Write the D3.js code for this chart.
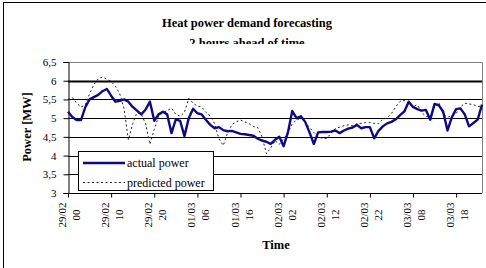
<!DOCTYPE html>
<html>
<head>
<meta charset="utf-8">
<script src="https://cdn.jsdelivr.net/npm/d3@7"></script>
<style>
  html, body { margin: 0; padding: 0; background: #fff; }
  svg { display: block; }
  text { font-family: "Liberation Serif", "Times New Roman", serif; fill: #000; }
</style>
</head>
<body>
<svg id="chart" width="486" height="268"></svg>
<script>
// ---- data (hourly, 29/02 00:00 .. 04/03 00:00) ----
const hours = d3.range(0, 97);
const actualPower = [5.17,5.03,4.95,4.95,5.29,5.5,5.56,5.62,5.72,5.78,
  5.6,5.44,5.46,5.5,5.44,5.3,5.2,5.1,5.23,5.44,
  4.93,5.1,5.17,5.1,4.6,4.97,4.93,4.52,5.0,5.25,
  5.13,5.1,4.95,4.82,4.73,4.76,4.68,4.65,4.66,4.62,
  4.58,4.57,4.55,4.53,4.45,4.4,4.37,4.31,4.42,4.5,
  4.25,4.62,5.19,5.0,5.05,4.9,4.62,4.31,4.62,4.63,
  4.63,4.64,4.67,4.6,4.67,4.72,4.75,4.82,4.73,4.76,
  4.76,4.46,4.66,4.78,4.86,4.9,4.97,5.08,5.18,5.44,
  5.3,5.24,5.2,5.22,4.96,5.38,5.34,5.17,4.67,5.02,
  5.24,5.26,5.1,4.78,4.87,4.96,5.36];
const predictedPower = [5.5,5.55,5.4,5.3,5.35,5.65,5.9,6.05,6.1,6.04,
  5.98,5.85,5.65,5.25,4.42,4.85,5.15,5.1,4.85,4.3,
  4.7,5.05,5.15,5.2,5.27,5.1,5.05,5.15,5.53,5.4,
  5.32,5.3,5.15,5.06,4.85,4.45,4.27,4.6,4.83,4.9,
  4.95,4.9,4.85,4.78,4.75,4.5,4.05,4.2,4.4,4.3,
  4.45,4.6,4.85,4.95,5.0,4.9,4.75,4.62,4.5,4.46,
  4.46,4.6,4.72,4.76,4.8,4.82,4.8,4.85,4.86,4.88,
  4.88,4.86,4.85,4.97,5.0,5.12,5.3,5.45,5.47,5.4,
  5.31,5.36,5.15,5.05,5.02,5.3,5.42,5.1,5.02,5.08,
  5.12,5.3,5.4,5.38,5.36,5.31,5.32];
const xTickHours = [0,10,20,30,40,50,60,70,80,90];
const xTickLabels = [["29/02","00"],["29/02","10"],["29/02","20"],["01/03","06"],["01/03","16"],
  ["02/03","02"],["02/03","12"],["02/03","22"],["03/03","08"],["03/03","18"]];
const yTicks = [3,3.5,4,4.5,5,5.5,6,6.5];
const titleLines = ["Heat power demand forecasting","2 hours ahead of time"];
const seriesNames = ["actual power","predicted power"];

// ---- layout ----
const svg = d3.select("#chart");
const L = 68, R = 482, T = 62, B = 193;
const x = d3.scaleLinear().domain([0, 96]).range([L, R]);
const y = d3.scaleLinear().domain([3, 6.5]).range([B, T]);
const fmt = v => String(v).replace(".", ",");

// outer chart border (top/left visible)
svg.append("rect").attr("x", 3.5).attr("y", 2.5).attr("width", 490).attr("height", 280)
  .attr("fill", "none").attr("stroke", "#000").attr("stroke-width", 1);

// title (second line clipped like the original)
svg.append("clipPath").attr("id", "tclip").append("rect")
  .attr("x", 0).attr("y", 0).attr("width", 486).attr("height", 44);
const tg = svg.append("g").attr("clip-path", "url(#tclip)");
tg.selectAll("text").data(titleLines).join("text")
  .attr("x", 247).attr("y", (d, i) => 27 + i * 19.5)
  .attr("text-anchor", "middle").attr("font-size", 12.5).attr("font-weight", "bold")
  .text(d => d);

// gridlines
svg.append("g").selectAll("line").data(yTicks.filter(v => v > 3 && v < 6.5)).join("line")
  .attr("x1", L).attr("x2", R).attr("y1", d => Math.round(y(d)) + 0.5).attr("y2", d => Math.round(y(d)) + 0.5)
  .attr("stroke", "#000").attr("stroke-width", d => d === 6 ? 2.2 : 1);

// plot border top/right grey
svg.append("path")
  .attr("d", `M${L},${T + 0.5}H${R + 0.5}V${B}`)
  .attr("fill", "none").attr("stroke", "#808080").attr("stroke-width", 1);

// y axis
const yAxis = d3.axisLeft(y).tickValues(yTicks).tickSize(5).tickPadding(7).tickFormat(fmt);
const gy = svg.append("g").attr("transform", `translate(${L + 0.5},0)`).call(yAxis);
gy.select(".domain").attr("stroke", "#000");
gy.selectAll(".tick line").attr("stroke", "#000");
gy.selectAll(".tick text").attr("font-family", "Liberation Serif").attr("font-size", 11).attr("fill", "#000");

// x axis
const xAxis = d3.axisBottom(x).tickValues(xTickHours).tickSize(4).tickFormat("");
const gx = svg.append("g").attr("transform", `translate(0,${B + 0.5})`).call(xAxis);
gx.select(".domain").attr("stroke", "#000").attr("d", `M${L},0H${R}`);
gx.selectAll(".tick line").attr("stroke", "#000");
const lab = svg.append("g").selectAll("g").data(xTickHours).join("g")
  .attr("transform", (d) => `translate(${x(d) + 1},215) rotate(-90)`);
lab.each(function (d, i) {
  const g = d3.select(this);
  xTickLabels[i].forEach((s, k) => {
    g.append("text").attr("x", 0).attr("y", k === 0 ? -7 : 7)
      .attr("text-anchor", "middle").attr("dominant-baseline", "central")
      .attr("font-size", 11).text(s);
  });
});

// axis titles
svg.append("text").attr("transform", `translate(31,127) rotate(-90)`)
  .attr("text-anchor", "middle").attr("font-size", 12.5).attr("font-weight", "bold").text("Power [MW]");
svg.append("text").attr("x", 276).attr("y", 249)
  .attr("text-anchor", "middle").attr("font-size", 12.5).attr("font-weight", "bold").text("Time");

// series
const lineGen = arr => d3.line().x((d, i) => x(hours[i])).y(d => y(d))(arr);
svg.append("path").attr("d", lineGen(predictedPower))
  .attr("fill", "none").attr("stroke", "#222").attr("stroke-width", 1).attr("stroke-dasharray", "2,2.5");
svg.append("path").attr("d", lineGen(actualPower))
  .attr("fill", "none").attr("stroke", "#0c0c80").attr("stroke-width", 2.4).attr("stroke-linejoin", "round");

// legend
const lg = svg.append("g");
lg.append("rect").attr("x", 78.5).attr("y", 151.5).attr("width", 135).attr("height", 39)
  .attr("fill", "#fff").attr("stroke", "#000").attr("stroke-width", 1);
lg.append("line").attr("x1", 83).attr("x2", 125).attr("y1", 163).attr("y2", 163)
  .attr("stroke", "#0c0c80").attr("stroke-width", 2.4);
lg.append("line").attr("x1", 83).attr("x2", 125).attr("y1", 182.5).attr("y2", 182.5)
  .attr("stroke", "#222").attr("stroke-width", 1).attr("stroke-dasharray", "2,2.5");
lg.selectAll("text.lt").data(seriesNames).join("text").attr("class", "lt")
  .attr("x", 127).attr("y", (d, i) => 167 + i * 19.5).attr("font-size", 12).text(d => d);
</script>
</body>
</html>
